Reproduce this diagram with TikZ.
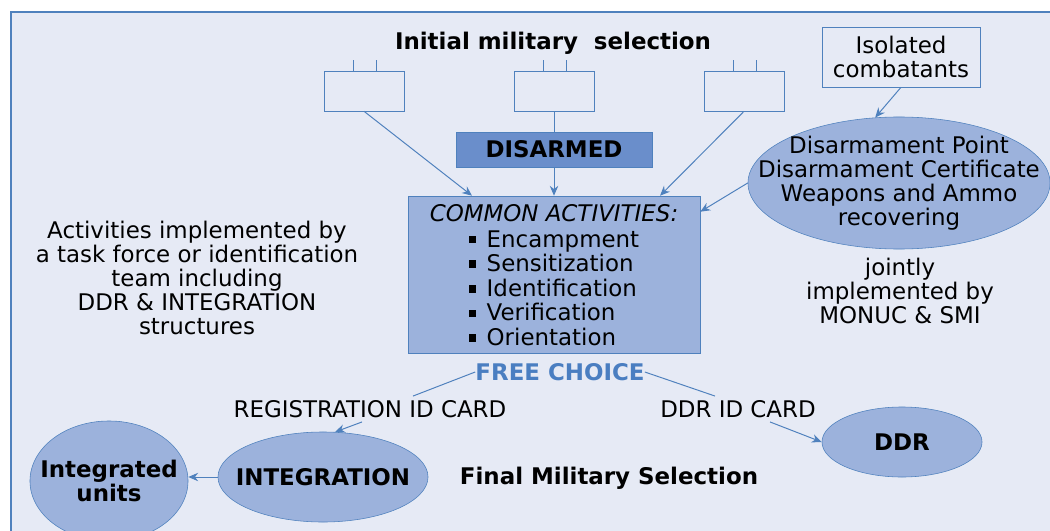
\documentclass[tikz,border=0pt]{standalone}
\usepackage{fontspec}
\setmainfont{DejaVu Sans}
\usetikzlibrary{shapes.geometric,arrows.meta}

\definecolor{paneblue}{HTML}{E6EAF5}
\definecolor{lineblue}{HTML}{4F81BD}
\definecolor{fillblue}{HTML}{9CB2DC}
\definecolor{darkblue}{HTML}{6A8ECB}
\definecolor{choiceblue}{HTML}{4A7EC1}

\newcommand\nodefont{\fontsize{16.3}{17}\selectfont}
\newcommand\sqbullet{\raisebox{0.3ex}{\rule{0.33em}{0.33em}}\hspace{0.45em}}

\tikzset{
  unitbox/.style={draw=lineblue,minimum width=2cm,minimum height=1cm,inner sep=0pt},
  disbox/.style={draw=lineblue,fill=darkblue,minimum width=4.9cm,minimum height=0.875cm,inner sep=0pt,font=\nodefont\bfseries},
  actbox/.style={draw=lineblue,fill=fillblue,minimum width=7.3cm,minimum height=3.925cm,inner sep=0pt,align=center},
  isobox/.style={draw=lineblue,minimum width=3.95cm,minimum height=1.5cm,inner sep=0pt,align=center},
  oval/.style={ellipse,draw=lineblue,fill=fillblue,inner sep=0pt},
  txt/.style={align=center,inner sep=0pt,font=\nodefont},
  bold/.style={txt,font=\nodefont\bfseries},
  link/.style={draw=lineblue,line width=0.7pt},
  arr/.style={link,-{Stealth[length=7pt,width=6pt]}}
}

\begin{document}
\begin{tikzpicture}[x=0.025cm,y=-0.025cm,font=\nodefont]
\useasboundingbox (0,0) rectangle (1050,531);
\fill[white] (0,0) rectangle (1050,531);
\draw[lineblue,line width=1.1pt,fill=paneblue] (11,12) rectangle (1070,550);

% top row
\node[bold] (title) at (553,43) {Initial military\ \ selection};
\node[unitbox] (unita) at (364,91) {};
\node[unitbox] (unitb) at (554,91) {};
\node[unitbox] (unitc) at (744,91) {};
\foreach \u in {unita,unitb,unitc} {
  \draw[lineblue] ([xshift=-0.275cm]\u.north) -- ++(0,0.275cm);
  \draw[lineblue] ([xshift=0.3cm]\u.north) -- ++(0,0.275cm);
}
\node[disbox] (disarmed) at (554,149.5) {DISARMED};
\node[isobox] (isolated) at (901,57) {Isolated\\combatants};

% centre
\node[actbox] (common) at (554,274.5) {\rule{0pt}{18pt}\textit{COMMON ACTIVITIES:}\\[5pt]
  \begin{tabular}{@{}l@{}}
  \sqbullet Encampment\\
  \sqbullet Sensitization\\
  \sqbullet Identification\\
  \sqbullet Verification\\
  \sqbullet Orientation
  \end{tabular}};
\node[oval,minimum width=7.55cm,minimum height=3.3cm] (dpoint) at (899,183) {};
\node[txt] (dpointtext) at (dpoint.center) {Disarmament Point\\Disarmament Certificate\\Weapons and Ammo\\recovering};
\node[txt] (jointly) at (900,291) {jointly\\implemented by\\MONUC \& SMI};
\node[txt] (taskforce) at (197,278) {Activities implemented by\\a task force or identification\\team including\\DDR \& INTEGRATION\\structures};

% bottom
\node[bold,text=choiceblue] (choice) at (560,372) {FREE CHOICE};
\node[txt] (regid) at (370,409) {REGISTRATION ID CARD};
\node[txt] (ddrid) at (738,409) {DDR ID CARD};
\node[oval,minimum width=5.25cm,minimum height=2.25cm] (integ) at (323,477) {};
\node[bold] (integtext) at (integ.center) {INTEGRATION};
\node[oval,minimum width=3.95cm,minimum height=3cm] (units) at (109,481) {};
\node[bold] (unitstext) at (units.center) {Integrated\\units};
\node[oval,minimum width=4cm,minimum height=1.75cm] (ddr) at (902,442) {};
\node[bold] (ddrtext) at (ddr.center) {DDR};
\node[bold] (final) at (609,478) {Final Military Selection};

% connectors
\draw[arr] (unita.south) -- ([xshift=-2.05cm]common.north);
\draw[link] (unitb.south) -- (disarmed.north);
\draw[arr] (disarmed.south) -- (common.north);
\draw[arr] (unitc.south) -- ([xshift=2.65cm]common.north);
\draw[arr] (isolated.south) -- (dpoint.110);
\draw[arr] (dpoint.west) -- ([yshift=-0.4cm]common.north east);
\draw[link] (choice.west) -- ([xshift=1.075cm,yshift=0.1cm]regid.north);
\draw[link] (choice.east) -- ([xshift=-0.575cm,yshift=0.1cm]ddrid.north);
\draw[arr] ([xshift=-0.2cm,yshift=-0.1cm]regid.south) -- (integ.75);
\draw[arr] ([xshift=0.8cm,yshift=-0.1cm]ddrid.south) -- (ddr.west);
\draw[arr] (integ.west) -- (integ.west -| units.east);
\end{tikzpicture}
\end{document}
